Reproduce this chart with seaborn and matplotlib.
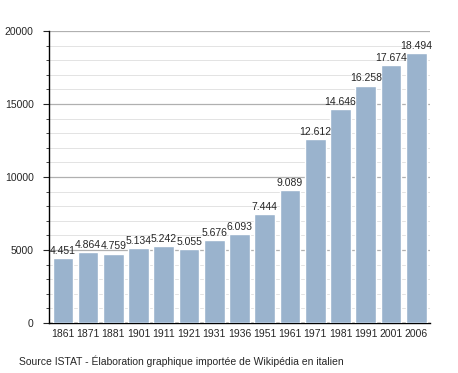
import matplotlib
matplotlib.use("Agg")
import matplotlib.pyplot as plt
import seaborn as sns
import pandas as pd
from matplotlib.ticker import MultipleLocator

years = ["1861", "1871", "1881", "1901", "1911", "1921", "1931", "1936",
         "1951", "1961", "1971", "1981", "1991", "2001", "2006"]
population = [4451, 4864, 4759, 5134, 5242, 5055, 5676, 6093,
              7444, 9089, 12612, 14646, 16258, 17674, 18494]
source_note = "Source ISTAT - Élaboration graphique importée de Wikipédia en italien"

df = pd.DataFrame({"year": years, "pop": population})

sns.set_style("white")
plt.rcParams["font.family"] = ["Liberation Sans", "DejaVu Sans"]

fig = plt.figure(figsize=(4.58, 3.73), dpi=100)
ax = fig.add_axes([0.107, 0.134, 0.832, 0.783])

sns.barplot(data=df, x="year", y="pop", color="#9ab3cd", saturation=1,
            width=0.82, ax=ax, zorder=3)

ax.set_ylim(0, 20000)
ax.set_xlim(-0.55, len(years) - 0.45)
ax.yaxis.set_major_locator(MultipleLocator(5000))
ax.yaxis.set_minor_locator(MultipleLocator(1000))
ax.grid(axis="y", which="major", color="#b0b0b0", linewidth=0.9, zorder=0)
ax.grid(axis="y", which="minor", color="#e3e3e3", linewidth=0.7, zorder=0)
ax.set_axisbelow(True)

for s in ["top", "right"]:
    ax.spines[s].set_visible(False)
for s in ["left", "bottom"]:
    ax.spines[s].set_color("black")
    ax.spines[s].set_linewidth(1.0)

ax.tick_params(axis="y", which="major", left=True, length=4, width=0.8,
               labelsize=7.5, pad=7)
ax.tick_params(axis="y", which="minor", left=True, length=2.5, width=0.6)
ax.tick_params(axis="x", bottom=False, labelsize=7.5, pad=1)
ax.set_xlabel("")
ax.set_ylabel("")

for i, v in enumerate(population):
    label = f"{v:,}".replace(",", ".")
    ax.text(i, v + 150, label, ha="center", va="bottom", fontsize=7.5,
            zorder=4)

fig.text(19 / 458, 1 - 361 / 373, source_note, fontsize=7.5, va="center",
         ha="left")

fig.savefig("out.png", dpi=100)
